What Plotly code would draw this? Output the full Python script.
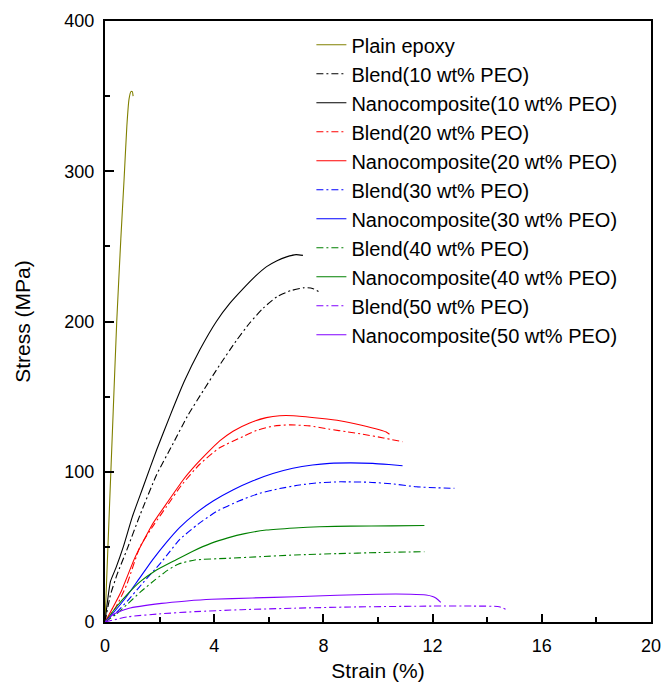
import plotly.graph_objects as go

# ---- data (strain %, stress MPa) ----
epoxy_x = [0, 0.15, 0.3, 0.43, 0.58, 0.7, 0.8, 0.88, 0.95, 1.0, 1.03]
epoxy_y = [0, 70, 140, 200, 255, 295, 330, 348, 353, 353, 350]

blend10_x = [0, 0.2, 0.45, 0.8, 1.3, 1.89, 2.5, 3.05, 3.6, 4.2, 4.8, 5.3, 5.8, 6.3, 6.8, 7.3, 7.6, 7.92]
blend10_y = [0, 18, 32, 48, 72, 98, 119, 138, 154, 171, 187, 199, 209, 216.5, 220.5, 222.5, 222, 219]

nano10_x = [0, 0.1, 0.2, 0.4, 0.67, 1.0, 1.4, 1.9, 2.4, 2.9, 3.47, 4.08, 4.57, 5.07, 5.5, 5.92, 6.3, 6.65, 7.0, 7.25]
nano10_y = [0, 15, 27, 36, 50, 70, 90, 115, 138, 160, 181, 200, 212, 222, 230, 236.5, 240.5, 243, 244.5, 244]

blend20_x = [0, 0.4, 0.8, 1.28, 1.8, 2.26, 2.8, 3.47, 4.2, 5.06, 5.55, 6.2, 6.8, 7.5, 8.23, 8.9, 9.44, 10.2, 10.9]
blend20_y = [0, 10, 25, 50, 65, 77, 91, 105, 116, 123.5, 127.5, 130.5, 131.2, 130.5, 128.3, 126.5, 125, 122.5, 120]

nano20_x = [0, 0.3, 0.61, 1.1, 1.77, 2.3, 2.86, 3.3, 3.72, 4.2, 4.69, 5.3, 5.91, 6.4, 6.9, 7.86, 8.6, 9.4, 10.05, 10.3, 10.42]
nano20_y = [0, 10, 21, 43, 66, 80, 94.5, 104, 112, 120.5, 127, 132.5, 136, 137.3, 137.3, 135.6, 134, 131, 128, 126.5, 125]

blend30_x = [0, 0.4, 0.85, 1.34, 2.07, 2.38, 2.74, 3.4, 4.08, 4.9, 5.67, 6.4, 7.13, 7.86, 8.6, 9.69, 10.5, 11.4, 12.2, 12.8]
blend30_y = [0, 6, 14.6, 25, 40, 47, 55, 65, 73.5, 80.5, 85.7, 88.8, 91.2, 92.7, 93.3, 93, 92, 90, 89.3, 89]

nano30_x = [0, 0.3, 0.75, 1.22, 1.77, 2.25, 2.74, 3.3, 3.96, 4.7, 5.42, 6.15, 6.88, 7.6, 8.23, 9.0, 9.81, 10.4, 10.9]
nano30_y = [0, 6, 16, 28, 42, 53, 63, 72, 80.5, 88, 94, 98.8, 102.3, 104.5, 105.6, 105.9, 105.6, 104.8, 104]

blend40_x = [0, 0.4, 0.85, 1.3, 1.83, 2.3, 2.68, 3.29, 4.51, 5.7, 6.95, 8.5, 10.0, 11.7]
blend40_y = [0, 5, 12.4, 20, 28, 34.5, 38.5, 41.3, 42.4, 43.5, 44.6, 45.5, 46.2, 46.8]

nano40_x = [0, 0.37, 0.85, 1.3, 1.83, 2.56, 3.2, 3.9, 4.5, 5.12, 5.91, 6.95, 7.86, 9.0, 10.5, 11.7]
nano40_y = [0, 9, 19, 27, 34, 41, 47, 52.5, 56, 58.8, 61.2, 62.6, 63.4, 63.8, 64, 64.2]

blend50_x = [0, 0.85, 2.0, 3.29, 5.0, 6.95, 9.0, 12.0, 13.5, 14.44, 14.69]
blend50_y = [0, 3.5, 5.4, 6.9, 8.2, 9.2, 10.0, 10.6, 10.6, 10.2, 8.4]

nano50_x = [0, 0.3, 0.85, 2.07, 3.0, 3.9, 5.4, 6.95, 8.5, 9.93, 11.2, 11.76, 12.0, 12.13, 12.3]
nano50_y = [0, 5, 9, 12.4, 14, 15.1, 16, 16.8, 17.8, 18.5, 18.5, 18, 17, 15.8, 13]

x_ticks = [0, 4, 8, 12, 16, 20]
y_ticks = [0, 100, 200, 300, 400]

series = [
    ("Plain epoxy", epoxy_x, epoxy_y, "#808000", "solid"),
    ("Blend(10 wt% PEO)", blend10_x, blend10_y, "#000000", "dashdot"),
    ("Nanocomposite(10 wt% PEO)", nano10_x, nano10_y, "#000000", "solid"),
    ("Blend(20 wt% PEO)", blend20_x, blend20_y, "#ff0000", "dashdot"),
    ("Nanocomposite(20 wt% PEO)", nano20_x, nano20_y, "#ff0000", "solid"),
    ("Blend(30 wt% PEO)", blend30_x, blend30_y, "#0000ff", "dashdot"),
    ("Nanocomposite(30 wt% PEO)", nano30_x, nano30_y, "#0000ff", "solid"),
    ("Blend(40 wt% PEO)", blend40_x, blend40_y, "#008000", "dashdot"),
    ("Nanocomposite(40 wt% PEO)", nano40_x, nano40_y, "#008000", "solid"),
    ("Blend(50 wt% PEO)", blend50_x, blend50_y, "#8000ff", "dashdot"),
    ("Nanocomposite(50 wt% PEO)", nano50_x, nano50_y, "#8000ff", "solid"),
]

fig = go.Figure()
for name, xs, ys, color, dash in series:
    d = "7px,3px,2px,3px" if dash == "dashdot" else "solid"
    fig.add_trace(go.Scatter(x=xs, y=ys, mode="lines", name=name,
                             line=dict(color=color, width=1.1, dash=d, shape="spline", smoothing=0.5)))

font_family = "Arial, Liberation Sans, sans-serif"
fig.update_layout(
    width=662, height=682,
    margin=dict(l=105, r=11, t=21, b=60, autoexpand=False),
    paper_bgcolor="white", plot_bgcolor="white",
    font=dict(family=font_family, color="black", size=17),
    showlegend=True,
    legend=dict(x=0.378, y=0.993, xanchor="left", yanchor="top",
                bgcolor="rgba(0,0,0,0)", font=dict(size=20, family=font_family),
                tracegroupgap=0),
)
fig.update_xaxes(range=[0, 20], tickvals=x_ticks, ticktext=[str(v) for v in x_ticks],
                 ticks="inside", ticklen=8, tickwidth=2, tickcolor="black",
                 showline=True, linewidth=2, linecolor="black", mirror=True,
                 showgrid=False, zeroline=False, automargin=False,
                 minor=dict(dtick=2, tick0=0, ticks="inside", ticklen=5, tickwidth=1.5, tickcolor="black"),
                 tickfont=dict(size=18), ticklabelstandoff=6,
                 title=dict(text="Strain (%)", font=dict(size=21), standoff=10))
fig.update_yaxes(range=[0, 400], tickvals=y_ticks, ticktext=[str(v) for v in y_ticks],
                 ticks="inside", ticklen=9, tickwidth=2, tickcolor="black",
                 showline=True, linewidth=2, linecolor="black", mirror=True,
                 showgrid=False, zeroline=False, automargin=False,
                 minor=dict(dtick=50, tick0=0, ticks="inside", ticklen=5, tickwidth=1.5, tickcolor="black"),
                 tickfont=dict(size=18), ticklabelstandoff=5,
                 title=dict(text="Stress (MPa)", font=dict(size=21), standoff=28))

fig.write_html("out.html", config={"displayModeBar": False},
               post_script="document.body.style.margin='0';document.body.style.padding='0';")
